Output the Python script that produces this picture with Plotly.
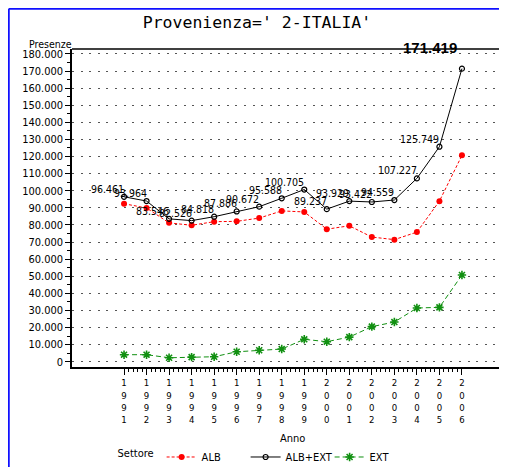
import plotly.graph_objects as go

# dati (presenze per anno)
anni = list(range(1991, 2007))
alb_ext = [96461, 93964, 83546, 82526, 84818, 87886, 90672, 95588,
           100705, 89237, 93929, 93422, 94559, 107227, 125749, 171419]
alb = [92400, 89900, 81200, 79800, 81900, 82100, 84000, 88200,
       87600, 77500, 79500, 72900, 71400, 75800, 93900, 120700]
ext = [4100, 4100, 2300, 2700, 2900, 5800, 6700, 7400,
       13100, 11700, 14400, 20500, 23200, 31400, 31800, 50700]
y_ticks = list(range(0, 180001, 10000))

FNARROW = "Liberation Sans Narrow, DejaVu Sans Condensed, Arial Narrow, sans-serif"


def fmt(v):
    return "{:,}".format(v).replace(",", ".")


labels = [fmt(v) for v in alb_ext]
x_labels = ["<br>".join(str(a)) for a in anni]
minor_x = [a + k / 5 for a in anni[:-1] for k in range(1, 5)]

fig = go.Figure()
fig.add_trace(go.Scatter(
    x=anni, y=alb, name="ALB", mode="lines+markers",
    line=dict(color="#ff0000", width=1, dash="3px,2px"),
    marker=dict(color="#ff0000", size=6, symbol="circle"),
))
fig.add_trace(go.Scatter(
    x=anni, y=alb_ext, name="ALB+EXT", mode="lines+markers",
    line=dict(color="black", width=1),
    marker=dict(color="black", size=5, symbol="circle-open", line=dict(color="black", width=1.2)),
))
fig.add_trace(go.Scatter(
    x=anni, y=ext, name="EXT", mode="lines+markers",
    line=dict(color="#119011", width=1, dash="5px,3px"),
    marker=dict(color="#119011", size=7, symbol="asterisk-open", line=dict(color="#119011", width=1.6)),
))

# etichette dei valori ALB+EXT (l'ultima in grande)
for a, v, lab in zip(anni[:-1], alb_ext[:-1], labels[:-1]):
    fig.add_annotation(x=a, y=v, text=lab, showarrow=False, xanchor="right", yanchor="bottom",
                       xshift=2, yshift=0, font=dict(family=FNARROW, size=10.5, color="black"))
fig.add_annotation(
    x=anni[-1], y=alb_ext[-1], text="<b>" + labels[-1] + "</b>",
    showarrow=False, xanchor="center", yanchor="middle", yshift=21, xshift=-32,
    font=dict(family="Liberation Sans, Arial, sans-serif", size=15, color="black"),
)

fig.update_layout(
    width=499, height=480,
    margin=dict(l=64, r=0, t=41, b=121),
    paper_bgcolor="white", plot_bgcolor="white",
    separators=",.",
    font=dict(family=FNARROW, size=11, color="black"),
    title=dict(
        text="Provenienza=' 2-ITALIA'", x=0.499, xanchor="center", y=0.9708, yanchor="middle",
        font=dict(family="DejaVu Sans Mono, monospace", size=16.5, color="black"),
    ),
    showlegend=True,
    legend=dict(
        orientation="h", x=0.1, xanchor="left", y=-0.283, yanchor="middle",
        title=dict(text="Settore", font=dict(family=FNARROW, size=11)),
        font=dict(family=FNARROW, size=11), entrywidth=39, entrywidthmode="pixels",
        itemclick=False, bgcolor="rgba(0,0,0,0)",
    ),
)

fig.update_xaxes(
    range=[1988.69, 2008.0], tickmode="array", tickvals=anni, ticktext=x_labels,
    ticks="outside", ticklen=6, tickwidth=1.2, tickcolor="black",
    tickfont=dict(family=FNARROW, size=9.5),
    showline=True, linecolor="black", linewidth=2, showgrid=False, zeroline=False,
    minor=dict(tickmode="array", tickvals=minor_x, ticks="outside", ticklen=3, tickcolor="black", tickwidth=1),
)
fig.update_yaxes(
    range=[-3100, 182900], tickmode="array", tickvals=y_ticks,
    tickformat=",d", ticks="outside", ticklen=5, tickwidth=1.2, tickcolor="black",
    tickfont=dict(family=FNARROW, size=11),
    showline=True, linecolor="black", linewidth=1.5, zeroline=False,
    showgrid=True, gridcolor="#555555", gridwidth=1, griddash="2px,6.6px",
    minor=dict(dtick=5000, tick0=0, ticks="outside", ticklen=3, tickcolor="black", tickwidth=1),
)

fig.add_annotation(text="Anno", x=1998.5, xref="x", y=-0.2264, yref="paper", yanchor="middle",
                   showarrow=False, font=dict(family=FNARROW, size=11))
fig.add_annotation(text="Presenze", x=-0.1034, xref="paper", xanchor="left", y=1.016, yref="paper",
                   yanchor="middle", showarrow=False, font=dict(family=FNARROW, size=10.5))

# cornice: linea superiore del grafico e bordo blu
fig.add_shape(type="line", xref="paper", yref="paper", x0=0, x1=1, y0=1, y1=1,
              line=dict(color="black", width=1.5))
fig.add_shape(type="line", xref="paper", yref="paper", x0=-0.1454, x1=-0.1454, y0=-0.5, y1=1.1266,
              line=dict(color="#1010ff", width=2))
fig.add_shape(type="line", xref="paper", yref="paper", x0=-0.1454, x1=1.05, y0=1.1266, y1=1.1266,
              line=dict(color="#1010ff", width=2))

fig.write_html("out.html")
